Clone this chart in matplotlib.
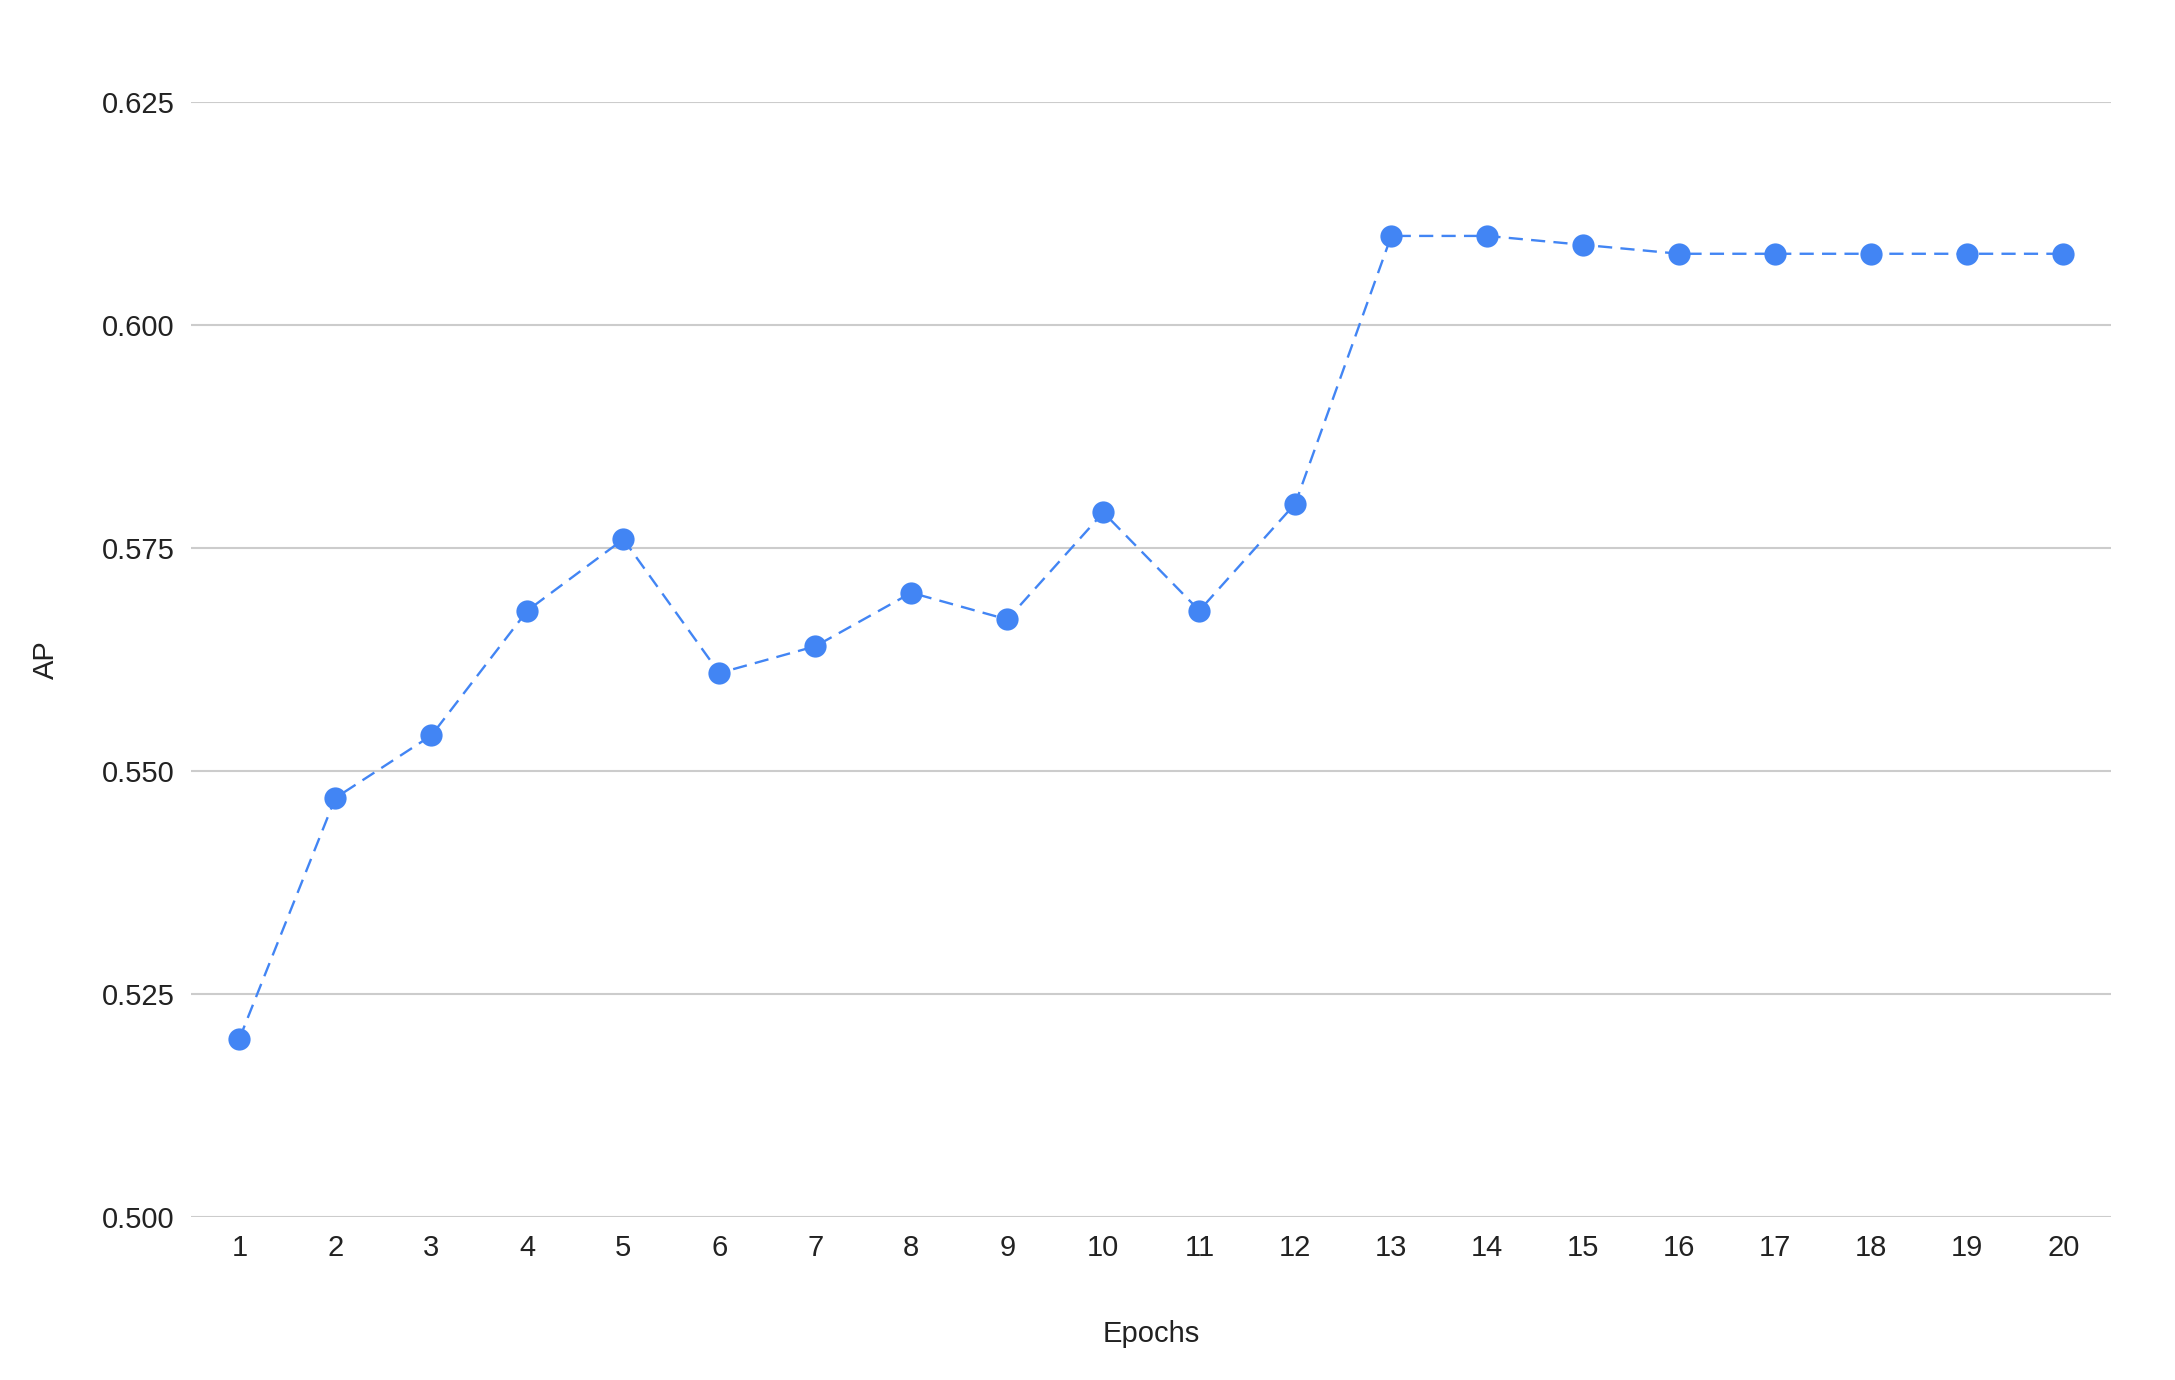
import matplotlib.pyplot as plt

epochs = list(range(1, 21))
ap = [0.520, 0.547, 0.554, 0.568, 0.576, 0.561, 0.564, 0.570, 0.567, 0.579,
      0.568, 0.580, 0.610, 0.610, 0.609, 0.608, 0.608, 0.608, 0.608, 0.608]
y_ticks = [0.500, 0.525, 0.550, 0.575, 0.600, 0.625]

plt.rcParams['font.family'] = ['Liberation Sans', 'DejaVu Sans']

fig = plt.figure(figsize=(21.75, 13.8), dpi=100)
ax = fig.add_axes([0.088, 0.118, 0.8827, 0.808])

blue = "#4285F4"
ax.plot(epochs, ap, color=blue, linewidth=1.7, linestyle=(0, (6, 3.5)),
        marker="o", markersize=16, markeredgewidth=0, zorder=3)

ax.set_xlim(0.5, 20.5)
ax.set_ylim(0.5, 0.625)
ax.set_xticks(epochs)
ax.set_yticks(y_ticks)
ax.set_yticklabels([f"{v:.3f}" for v in y_ticks])
ax.grid(axis="y", color="#cccccc", linewidth=1.5)
ax.set_axisbelow(True)
for s in ax.spines.values():
    s.set_visible(False)
ax.tick_params(length=0, labelsize=21, colors="#222222")
ax.tick_params(axis="x", pad=12)
ax.tick_params(axis="y", pad=12)

ax.set_xlabel("Epochs", fontsize=21, color="#222222", labelpad=42)
ax.set_ylabel("AP", fontsize=21, color="#222222", labelpad=30)

fig.savefig("out.png", dpi=100, facecolor="white")
